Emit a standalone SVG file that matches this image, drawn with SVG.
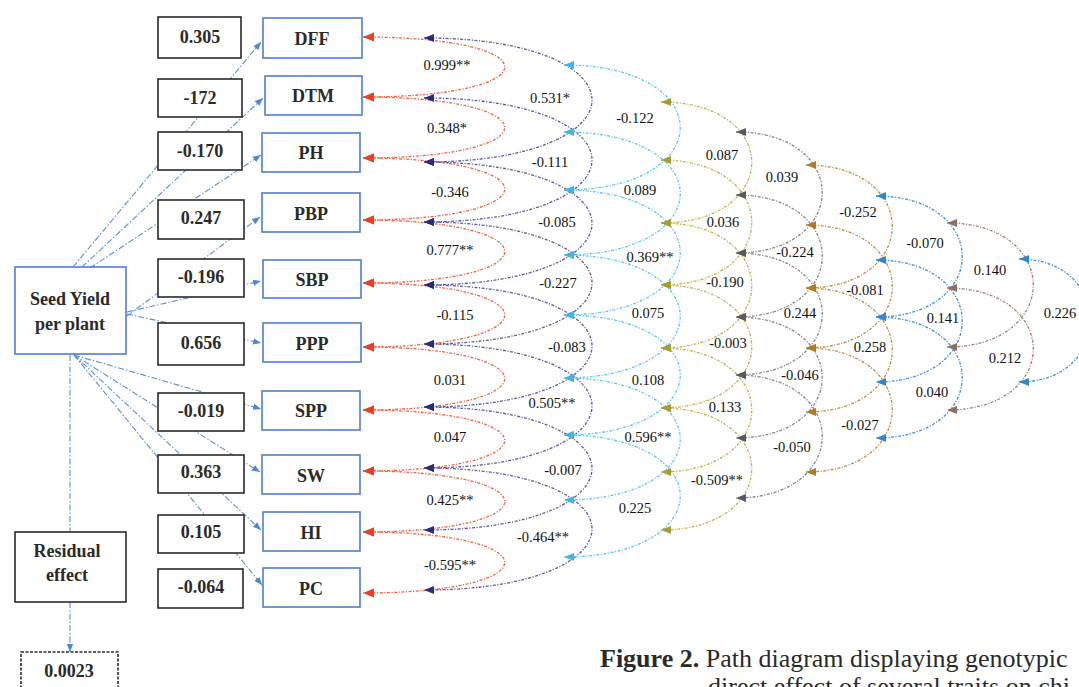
<svg xmlns="http://www.w3.org/2000/svg" width="1079" height="687" viewBox="0 0 1079 687">
<style>
.vb{fill:#fff;stroke:#2a2a2a;stroke-width:1.6}
.tb{fill:#fff;stroke:#4d7fd0;stroke-width:1.6}
.bt{font-family:"Liberation Serif",serif;font-weight:bold;fill:#2a2a2a;text-anchor:middle}
.lab{font-family:"Liberation Serif",serif;font-size:14.5px;fill:#111;text-anchor:middle}
.c{fill:none;stroke-width:1.3;stroke-dasharray:3 1.5 1.2 1.5}
.sy{fill:none;stroke:#5b8ed6;stroke-width:1.1;stroke-dasharray:6 2 1.5 2}
.l1{stroke:#f2603f;marker-start:url(#m1);marker-end:url(#m1)}
.l2{stroke:#5c57a4;marker-start:url(#m2);marker-end:url(#m2)}
.l3{stroke:#5ec6ef;marker-start:url(#m3);marker-end:url(#m3)}
.l4{stroke:#bdb34f;marker-start:url(#m4);marker-end:url(#m4)}
.l5{stroke:#858585;marker-start:url(#m5);marker-end:url(#m5)}
.l6{stroke:#c48b40;marker-start:url(#m6);marker-end:url(#m6)}
.l7{stroke:#3d8fd8;marker-start:url(#m7);marker-end:url(#m7)}
.l8{stroke:#9e8074;marker-start:url(#m8);marker-end:url(#m8)}
.cap{font-family:"Liberation Serif",serif;font-size:26px;fill:#2a2a2a}
</style>
<defs>
<marker id="m1" viewBox="0 0 10 8" refX="10" refY="4" markerWidth="11" markerHeight="10" markerUnits="userSpaceOnUse" orient="auto-start-reverse"><path d="M0,0 L10,4 L0,8 z" fill="#ec3f22"/></marker>
<marker id="m2" viewBox="0 0 10 8" refX="10" refY="4" markerWidth="10" markerHeight="9" markerUnits="userSpaceOnUse" orient="auto-start-reverse"><path d="M0,0 L10,4 L0,8 z" fill="#272d7c"/></marker>
<marker id="m3" viewBox="0 0 10 8" refX="10" refY="4" markerWidth="10" markerHeight="9" markerUnits="userSpaceOnUse" orient="auto-start-reverse"><path d="M0,0 L10,4 L0,8 z" fill="#3fb6ea"/></marker>
<marker id="m4" viewBox="0 0 10 8" refX="10" refY="4" markerWidth="10" markerHeight="9" markerUnits="userSpaceOnUse" orient="auto-start-reverse"><path d="M0,0 L10,4 L0,8 z" fill="#a59d2c"/></marker>
<marker id="m5" viewBox="0 0 10 8" refX="10" refY="4" markerWidth="10" markerHeight="9" markerUnits="userSpaceOnUse" orient="auto-start-reverse"><path d="M0,0 L10,4 L0,8 z" fill="#555a5c"/></marker>
<marker id="m6" viewBox="0 0 10 8" refX="10" refY="4" markerWidth="10" markerHeight="9" markerUnits="userSpaceOnUse" orient="auto-start-reverse"><path d="M0,0 L10,4 L0,8 z" fill="#b07a28"/></marker>
<marker id="m7" viewBox="0 0 10 8" refX="10" refY="4" markerWidth="10" markerHeight="9" markerUnits="userSpaceOnUse" orient="auto-start-reverse"><path d="M0,0 L10,4 L0,8 z" fill="#2f86d4"/></marker>
<marker id="m8" viewBox="0 0 10 8" refX="10" refY="4" markerWidth="10" markerHeight="9" markerUnits="userSpaceOnUse" orient="auto-start-reverse"><path d="M0,0 L10,4 L0,8 z" fill="#8e6e62"/></marker>
<marker id="mb" viewBox="0 0 10 8" refX="10" refY="4" markerWidth="8" markerHeight="7" markerUnits="userSpaceOnUse" orient="auto"><path d="M0,0 L10,4 L0,8 z" fill="#4d86d6"/></marker>
</defs>
<rect width="1079" height="687" fill="#fff"/>

<g id="connectors">
<path class="sy" marker-end="url(#mb)" d="M73,267 L261,42"/>
<path class="sy" marker-end="url(#mb)" d="M82,267 L263,98"/>
<path class="sy" marker-end="url(#mb)" d="M90,268 L261,155"/>
<path class="sy" marker-end="url(#mb)" d="M127,316 L260,217"/>
<path class="sy" marker-end="url(#mb)" d="M127,312 L261,281"/>
<path class="sy" marker-end="url(#mb)" d="M127,314 L261,343"/>
<path class="sy" marker-end="url(#mb)" d="M74,355 L261,409"/>
<path class="sy" marker-end="url(#mb)" d="M74,355 L260,472"/>
<path class="sy" marker-end="url(#mb)" d="M74,355 L261,530"/>
<path class="sy" marker-end="url(#mb)" d="M74,355 L262,585"/>
<path class="sy" d="M70,355 L70,532"/>
<path class="sy" marker-end="url(#mb)" d="M70,602 L70,652"/>

<path class="c l1" d="M363,37 C552,37 552,97 363,97"/>
<path class="c l1" d="M363,97 C552,97 552,158 363,158"/>
<path class="c l1" d="M363,158 C552,158 552,220 363,220"/>
<path class="c l1" d="M363,220 C552,220 552,283 363,283"/>
<path class="c l1" d="M363,283 C552,283 552,347 363,347"/>
<path class="c l1" d="M363,347 C552,347 552,410 363,410"/>
<path class="c l1" d="M363,410 C552,410 552,471 363,471"/>
<path class="c l1" d="M363,471 C552,471 552,532 363,532"/>
<path class="c l1" d="M363,532 C552,532 552,593 363,593"/>

<path class="c l2" d="M424,38 C648,38 648,162 424,162"/>
<path class="c l2" d="M424,98 C648,98 648,222 424,222"/>
<path class="c l2" d="M424,162 C648,162 648,285 424,285"/>
<path class="c l2" d="M424,222 C648,222 648,344 424,344"/>
<path class="c l2" d="M424,285 C648,285 648,407 424,407"/>
<path class="c l2" d="M424,344 C648,344 648,468 424,468"/>
<path class="c l2" d="M424,407 C648,407 648,530 424,530"/>
<path class="c l2" d="M424,468 C648,468 648,590 424,590"/>

<path class="c l3" d="M564,65 C719,65 719,190 564,190"/>
<path class="c l3" d="M564,132 C719,132 719,255 564,255"/>
<path class="c l3" d="M564,190 C719,190 719,315 564,315"/>
<path class="c l3" d="M564,255 C719,255 719,378 564,378"/>
<path class="c l3" d="M564,315 C719,315 719,435 564,435"/>
<path class="c l3" d="M564,378 C719,378 719,500 564,500"/>
<path class="c l3" d="M564,435 C719,435 719,557 564,557"/>

<path class="c l4" d="M661,102 C782,102 782,223 661,223"/>
<path class="c l4" d="M661,160 C782,160 782,285 661,285"/>
<path class="c l4" d="M661,223 C782,223 782,348 661,348"/>
<path class="c l4" d="M661,285 C782,285 782,408 661,408"/>
<path class="c l4" d="M661,348 C782,348 782,472 661,472"/>
<path class="c l4" d="M661,408 C782,408 782,530 661,530"/>

<path class="c l5" d="M736,132 C851,132 851,253 736,253"/>
<path class="c l5" d="M736,195 C851,195 851,317 736,317"/>
<path class="c l5" d="M736,253 C851,253 851,375 736,375"/>
<path class="c l5" d="M736,317 C851,317 851,438 736,438"/>
<path class="c l5" d="M736,375 C851,375 851,498 736,498"/>

<path class="c l6" d="M806,165 C921,165 921,288 806,288"/>
<path class="c l6" d="M806,225 C921,225 921,348 806,348"/>
<path class="c l6" d="M806,288 C921,288 921,412 806,412"/>
<path class="c l6" d="M806,348 C921,348 921,472 806,472"/>

<path class="c l7" d="M876,196 C991,196 991,317 876,317"/>
<path class="c l7" d="M876,260 C991,260 991,382 876,382"/>
<path class="c l7" d="M876,317 C991,317 991,438 876,438"/>

<path class="c l8" d="M947,223 C1062,223 1062,347 947,347"/>
<path class="c l8" d="M947,288 C1062,288 1062,410 947,410"/>

<path class="c l7" d="M1019,259 C1114,259 1114,382 1019,382"/>
</g>

<g id="labels">
<text class="lab" x="447" y="70">0.999**</text>
<text class="lab" x="447" y="133">0.348*</text>
<text class="lab" x="450" y="197">-0.346</text>
<text class="lab" x="450" y="255">0.777**</text>
<text class="lab" x="455" y="320">-0.115</text>
<text class="lab" x="450" y="385">0.031</text>
<text class="lab" x="450" y="442">0.047</text>
<text class="lab" x="450" y="505">0.425**</text>
<text class="lab" x="450" y="570">-0.595**</text>

<text class="lab" x="550" y="103">0.531*</text>
<text class="lab" x="550" y="167">-0.111</text>
<text class="lab" x="557" y="227">-0.085</text>
<text class="lab" x="558" y="288">-0.227</text>
<text class="lab" x="567" y="352">-0.083</text>
<text class="lab" x="552" y="408">0.505**</text>
<text class="lab" x="563" y="475">-0.007</text>
<text class="lab" x="543" y="542">-0.464**</text>

<text class="lab" x="635" y="123">-0.122</text>
<text class="lab" x="640" y="195">0.089</text>
<text class="lab" x="650" y="262">0.369**</text>
<text class="lab" x="648" y="318">0.075</text>
<text class="lab" x="648" y="385">0.108</text>
<text class="lab" x="648" y="442">0.596**</text>
<text class="lab" x="635" y="513">0.225</text>

<text class="lab" x="722" y="160">0.087</text>
<text class="lab" x="723" y="227">0.036</text>
<text class="lab" x="725" y="287">-0.190</text>
<text class="lab" x="728" y="348">-0.003</text>
<text class="lab" x="725" y="412">0.133</text>
<text class="lab" x="717" y="485">-0.509**</text>

<text class="lab" x="782" y="182">0.039</text>
<text class="lab" x="795" y="257">-0.224</text>
<text class="lab" x="800" y="318">0.244</text>
<text class="lab" x="800" y="380">-0.046</text>
<text class="lab" x="792" y="452">-0.050</text>

<text class="lab" x="858" y="217">-0.252</text>
<text class="lab" x="865" y="295">-0.081</text>
<text class="lab" x="870" y="352">0.258</text>
<text class="lab" x="860" y="430">-0.027</text>

<text class="lab" x="925" y="248">-0.070</text>
<text class="lab" x="943" y="323">0.141</text>
<text class="lab" x="932" y="397">0.040</text>

<text class="lab" x="990" y="275">0.140</text>
<text class="lab" x="1005" y="363">0.212</text>

<text class="lab" x="1060" y="318">0.226</text>
</g>

<g id="seed-yield"><rect class="tb" x="15" y="267" width="111" height="87" stroke="#6f93d0"/><text class="bt" x="70" y="305" font-size="18">Seed Yield</text><text class="bt" x="70" y="330" font-size="18">per plant</text></g>
<g id="residual"><rect class="vb" x="15" y="532" width="111" height="70" stroke="#444"/><text class="bt" x="67" y="557" font-size="18">Residual</text><text class="bt" x="67" y="581" font-size="18">effect</text></g>
<g id="residual-value"><rect class="vb" x="21" y="652" width="97" height="45" stroke-dasharray="3 1.5"/><text class="bt" x="69" y="677" font-size="18">0.0023</text></g>

<g id="v-dff"><rect class="vb" x="158" y="17" width="83" height="41"/><text class="bt" x="200" y="43" font-size="18">0.305</text></g>
<g id="v-dtm"><rect class="vb" x="158" y="79" width="84" height="38"/><text class="bt" x="200" y="104" font-size="18">-172</text></g>
<g id="v-ph"><rect class="vb" x="158" y="132" width="84" height="38"/><text class="bt" x="200" y="157" font-size="18">-0.170</text></g>
<g id="v-pbp"><rect class="vb" x="158" y="200" width="86" height="39"/><text class="bt" x="201" y="224" font-size="18">0.247</text></g>
<g id="v-sbp"><rect class="vb" x="158" y="259" width="86" height="38"/><text class="bt" x="201" y="283" font-size="18">-0.196</text></g>
<g id="v-ppp"><rect class="vb" x="158" y="323" width="86" height="42"/><text class="bt" x="201" y="349" font-size="18">0.656</text></g>
<g id="v-spp"><rect class="vb" x="158" y="393" width="86" height="38"/><text class="bt" x="201" y="417" font-size="18">-0.019</text></g>
<g id="v-sw"><rect class="vb" x="158" y="455" width="86" height="38"/><text class="bt" x="201" y="478" font-size="18">0.363</text></g>
<g id="v-hi"><rect class="vb" x="158" y="515" width="86" height="38"/><text class="bt" x="201" y="538" font-size="18">0.105</text></g>
<g id="v-pc"><rect class="vb" x="158" y="569" width="85" height="39"/><text class="bt" x="201" y="593" font-size="18">-0.064</text></g>

<g id="DFF"><rect class="tb" x="263" y="18" width="99" height="40"/><text class="bt" x="312" y="45" font-size="18">DFF</text></g>
<g id="DTM"><rect class="tb" x="265" y="76" width="97" height="39"/><text class="bt" x="313" y="102" font-size="18">DTM</text></g>
<g id="PH"><rect class="tb" x="262" y="133" width="98" height="39"/><text class="bt" x="311" y="159" font-size="18">PH</text></g>
<g id="PBP"><rect class="tb" x="262" y="193" width="98" height="39"/><text class="bt" x="311" y="220" font-size="18">PBP</text></g>
<g id="SBP"><rect class="tb" x="263" y="260" width="98" height="38"/><text class="bt" x="312" y="286" font-size="18">SBP</text></g>
<g id="PPP"><rect class="tb" x="263" y="323" width="98" height="39"/><text class="bt" x="312" y="350" font-size="18">PPP</text></g>
<g id="SPP"><rect class="tb" x="262" y="391" width="98" height="39"/><text class="bt" x="311" y="417" font-size="18">SPP</text></g>
<g id="SW"><rect class="tb" x="262" y="455" width="98" height="39"/><text class="bt" x="311" y="482" font-size="18">SW</text></g>
<g id="HI"><rect class="tb" x="263" y="512" width="97" height="39"/><text class="bt" x="311" y="539" font-size="18">HI</text></g>
<g id="PC"><rect class="tb" x="263" y="568" width="97" height="39"/><text class="bt" x="311" y="595" font-size="18">PC</text></g>

<g id="caption">
<text class="cap" x="600" y="667"><tspan font-weight="bold">Figure 2.</tspan> Path diagram displaying genotypic</text>
<text class="cap" x="708" y="695">direct effect of several traits on chi</text>
</g>
</svg>
